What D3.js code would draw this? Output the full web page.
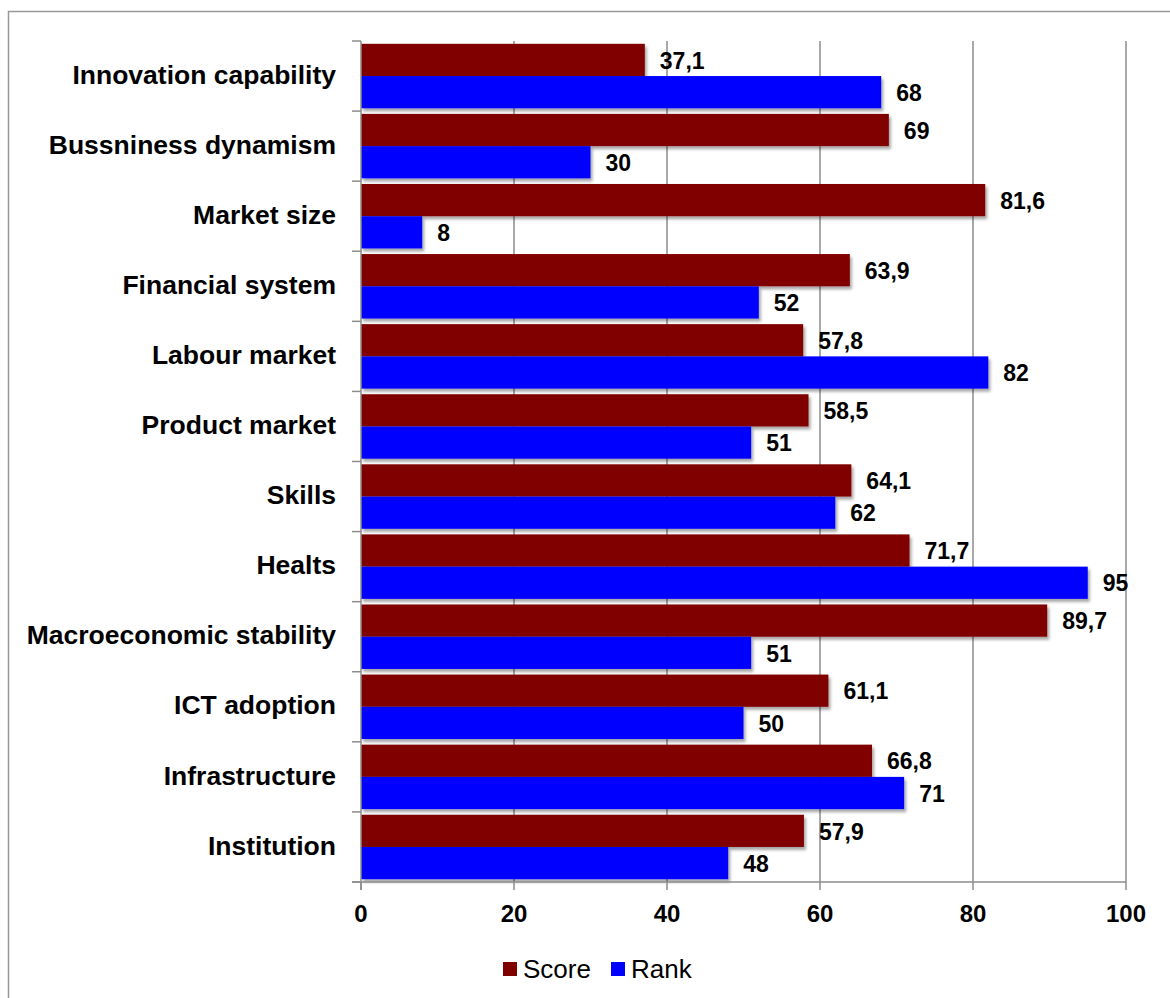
<!DOCTYPE html>
<html>
<head>
<meta charset="utf-8">
<script src="https://cdn.jsdelivr.net/npm/d3@7"></script>
<style>
  html, body { margin: 0; padding: 0; background: #fff; }
  svg { display: block; font-family: "Liberation Sans", Arial, sans-serif; }
</style>
</head>
<body>
<svg id="chart" width="1170" height="998"></svg>
<script>
// Pillar names, top to bottom
const categories = [
  "Innovation capability", "Bussniness dynamism", "Market size", "Financial system",
  "Labour market", "Product market", "Skills", "Healts",
  "Macroeconomic stability", "ICT adoption", "Infrastructure", "Institution"
];
const scoreValues = [37.1, 69, 81.6, 63.9, 57.8, 58.5, 64.1, 71.7, 89.7, 61.1, 66.8, 57.9];
const rankValues  = [68, 30, 8, 52, 82, 51, 62, 95, 51, 50, 71, 48];
const seriesNames = ["Score", "Rank"];
const seriesColors = ["#800000", "#0000ff"];
const xTicks = [0, 20, 40, 60, 80, 100];

const svg = d3.select("#chart");
const W = 1170, H = 998;
const plot = { left: 361, right: 1126, top: 41, bottom: 882 };

// Outer chart frame
svg.append("rect")
  .attr("x", 8.5).attr("y", 11.5)
  .attr("width", W + 20).attr("height", H + 20)
  .attr("fill", "#fff").attr("stroke", "#999").attr("stroke-width", 1.5);

const defs = svg.append("defs");
const f = defs.append("filter").attr("id", "shadow")
  .attr("x", "-5%").attr("y", "-20%").attr("width", "115%").attr("height", "160%");
f.append("feDropShadow")
  .attr("dx", 2).attr("dy", 3).attr("stdDeviation", 1.8)
  .attr("flood-color", "#000").attr("flood-opacity", 0.35);

const x = d3.scaleLinear().domain([0, 100]).range([plot.left, plot.right]);
const y = d3.scaleBand().domain(categories).range([plot.top, plot.bottom]).padding(0);
const barH = y.bandwidth() * 0.46;

// Vertical gridlines
svg.append("g").selectAll("line")
  .data(xTicks.filter(t => t > 0))
  .join("line")
  .attr("x1", d => x(d)).attr("x2", d => x(d))
  .attr("y1", plot.top).attr("y2", plot.bottom)
  .attr("stroke", "#8c8c8c").attr("stroke-width", 1.5);

// Bars
const rows = categories.map((c, i) => ({ c, vals: [scoreValues[i], rankValues[i]] }));
const barsG = svg.append("g");
rows.forEach(r => {
  const mid = y(r.c) + y.bandwidth() / 2;
  r.vals.forEach((v, s) => {
    const y0 = mid - barH + s * barH;
    barsG.append("rect")
      .attr("x", x(0)).attr("y", y0)
      .attr("width", x(v) - x(0)).attr("height", barH)
      .attr("fill", seriesColors[s])
      .attr("filter", "url(#shadow)");
  });
});

// Value labels
const fmt = v => String(v).replace(".", ",");
rows.forEach(r => {
  const mid = y(r.c) + y.bandwidth() / 2;
  r.vals.forEach((v, s) => {
    svg.append("text")
      .attr("x", x(v) + 15)
      .attr("y", mid - barH / 2 + s * barH)
      .attr("dy", "0.38em")
      .attr("font-size", 23).attr("font-weight", "bold").attr("fill", "#000")
      .text(fmt(v));
  });
});

// Category axis
const yAxis = svg.append("g").attr("transform", `translate(${plot.left},0)`);
yAxis.append("line")
  .attr("x1", 0).attr("x2", 0).attr("y1", plot.top).attr("y2", plot.bottom + 8)
  .attr("stroke", "#8c8c8c").attr("stroke-width", 1.5);
const bounds = categories.map(c => y(c)).concat([plot.bottom]);
yAxis.selectAll("line.tick").data(bounds).join("line").attr("class", "tick")
  .attr("x1", -9).attr("x2", 0).attr("y1", d => d).attr("y2", d => d)
  .attr("stroke", "#8c8c8c").attr("stroke-width", 1.5);
yAxis.selectAll("text").data(categories).join("text")
  .attr("x", -25).attr("y", d => y(d) + y.bandwidth() / 2)
  .attr("dy", "0.29em").attr("text-anchor", "end")
  .attr("font-size", 26.5).attr("font-weight", "bold").attr("fill", "#000")
  .text(d => d);

// Value axis
const xAxis = svg.append("g").attr("transform", `translate(0,${plot.bottom})`);
xAxis.append("line")
  .attr("x1", plot.left - 9).attr("x2", plot.right).attr("y1", 0).attr("y2", 0)
  .attr("stroke", "#8c8c8c").attr("stroke-width", 1.5);
xAxis.selectAll("line.tick").data(xTicks).join("line").attr("class", "tick")
  .attr("x1", d => x(d)).attr("x2", d => x(d)).attr("y1", 0).attr("y2", 8)
  .attr("stroke", "#8c8c8c").attr("stroke-width", 1.5);
xAxis.selectAll("text").data(xTicks).join("text")
  .attr("x", d => x(d)).attr("y", 39.5)
  .attr("text-anchor", "middle")
  .attr("font-size", 24).attr("font-weight", "bold").attr("fill", "#000")
  .text(d => d);

// Legend
const legend = svg.append("g");
const legendX = [503, 611];
seriesNames.forEach((n, i) => {
  legend.append("rect")
    .attr("x", legendX[i]).attr("y", 962).attr("width", 14).attr("height", 14)
    .attr("fill", seriesColors[i]);
  legend.append("text")
    .attr("x", legendX[i] + 20).attr("y", 977.5)
    .attr("font-size", 26).attr("fill", "#000")
    .text(n);
});
</script>
</body>
</html>
